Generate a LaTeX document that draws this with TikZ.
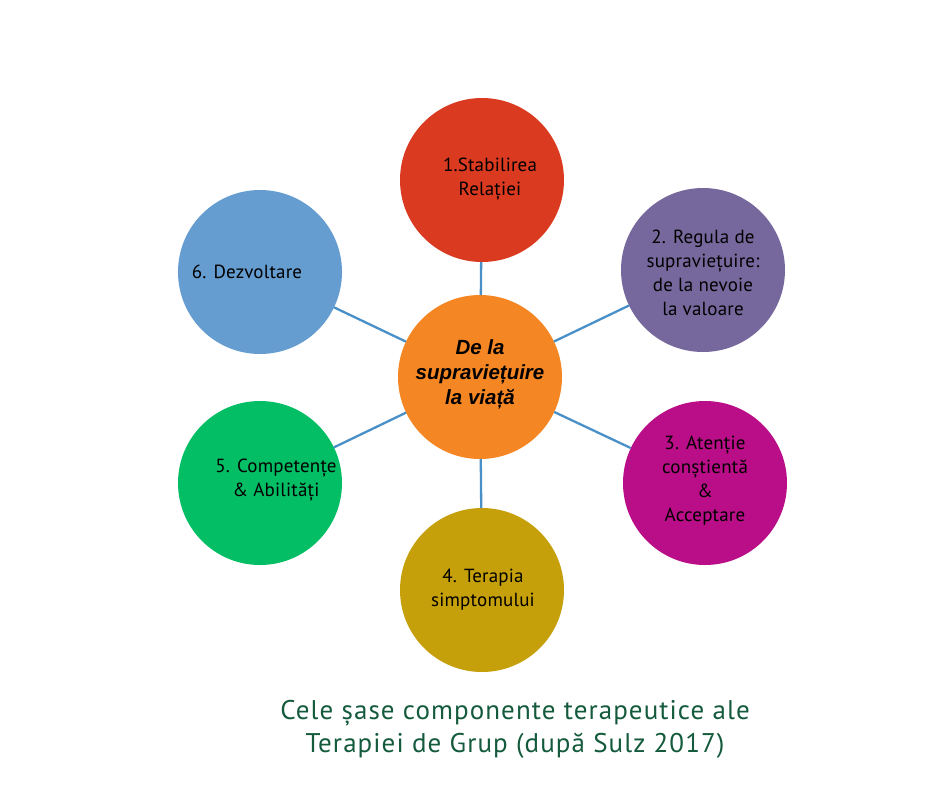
\documentclass[tikz,border=0pt]{standalone}
\usepackage{fontspec}
\setmainfont{PT Sans}[LetterSpace=1]
\newfontfamily\centerfont{Liberation Sans}
\newfontfamily\titlefont{PT Sans}[LetterSpace=4]
\definecolor{cred}{RGB}{218,58,32}
\definecolor{cpurple}{RGB}{118,104,156}
\definecolor{cmagenta}{RGB}{185,14,135}
\definecolor{cgold}{RGB}{198,160,10}
\definecolor{cgreen}{RGB}{3,190,100}
\definecolor{cblue}{RGB}{101,157,208}
\definecolor{corange}{RGB}{244,134,36}
\definecolor{ctitle}{RGB}{20,90,60}
\definecolor{cline}{RGB}{74,144,200}
\begin{document}
\begin{tikzpicture}[x=1pt,y=-1pt,
  bubble/.style={circle,minimum size=164pt,inner sep=0pt,outer sep=0pt,draw=none},
  btext/.style={align=center,font=\fontsize{19}{24}\selectfont,text=black,inner sep=0pt},
  link/.style={draw=cline,line width=2.3pt}]
\useasboundingbox (0,0) rectangle (940,788);
\node[bubble,fill=corange] (c0) at (480,377) {};
\node[bubble,fill=cred] (c1) at (482,180) {};
\node[bubble,fill=cpurple] (c2) at (703,270) {};
\node[bubble,fill=cmagenta] (c3) at (705,483) {};
\node[bubble,fill=cgold] (c4) at (482,590) {};
\node[bubble,fill=cgreen] (c5) at (260,483) {};
\node[bubble,fill=cblue] (c6) at (260,272) {};
\foreach \i in {1,...,6} { \draw[link] (c0) -- (c\i); }
\node[align=center,inner sep=0pt,font=\centerfont\bfseries\itshape\fontsize{20.5}{25}\selectfont] (t0) at (480,374) {De la\\supraviețuire\\la viață};
\node[btext] (t1) at (490,179) {1.Stabilirea\\Relației};
\node[btext] (t2) at (703,273) {2. Regula de\\supraviețuire:\\de la nevoie\\la valoare};
\node[btext] (t3) at (705,481) {3. Atenție\\conștientă\\\&\\Acceptare};
\node[btext] (t4) at (483,590) {4. Terapia\\simptomului};
\node[btext] (t5) at (276,480) {5. Competențe\\\& Abilități};
\node[btext] (t6) at (247,272) {6. Dezvoltare};
\node[align=center,inner sep=0pt,text=ctitle,font=\titlefont\fontsize{27}{33}\selectfont] (title) at (515,729) {Cele șase componente terapeutice ale\\Terapiei de Grup (după Sulz 2017)};
\end{tikzpicture}
\end{document}
